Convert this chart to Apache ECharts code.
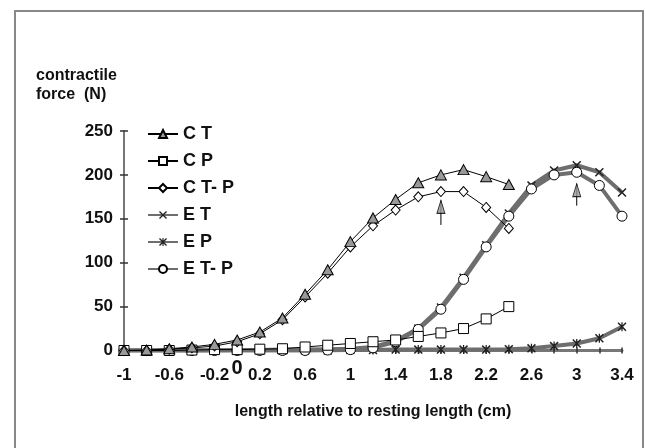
<!DOCTYPE html>
<html>
<head>
<meta charset="utf-8">
<script src="https://cdn.jsdelivr.net/npm/echarts@6/dist/echarts.min.js"></script>
<style>
html,body{margin:0;padding:0;background:#fff;}
#chart{width:646px;height:448px;}
</style>
</head>
<body>
<div id="chart"></div>
<script>
// ---- data ----
const xE = [-1,-0.8,-0.6,-0.4,-0.2,0,0.2,0.4,0.6,0.8,1,1.2,1.4,1.6,1.8,2,2.2,2.4,2.6,2.8,3,3.2,3.4];
const xC = [-1,-0.8,-0.6,-0.4,-0.2,0,0.2,0.4,0.6,0.8,1,1.2,1.4,1.6,1.8,2,2.2,2.4];
const CT  = [0,0.5,2,4,7,12,21,37,64,92,124,151,172,191,200,206,198,189];
const CP  = [0,0,0,0.5,1,1,1.5,2,4,6,8,10,12,16,20,25,36,50];
const CTP = [0,0,1.5,3,5,10,19,35,61,88,118,142,160,175,181,181,163,139];
const ET  = [0,0,0,0,0,0.5,0.5,1,1,1.5,2,4,11,25,49,83,120,156,188,205,211,203,180];
const EP  = [0,0,0,0,0,0,0,0,0,0,0.5,0.5,1,1,1,1,1,1.5,2.5,5,8,14,27];
const ETP = [0,0,0,0,0,0,0,0,0,0.5,1,3,10,24,47,81,118,153,184,200,203,188,153];
const seriesNames = ['C T','C P','C T- P','E T','E P','E T- P'];
const xLabelValues = [-1,-0.6,-0.2,0.2,0.6,1,1.4,1.8,2.2,2.6,3,3.4];
const xTickValues = xE;
const zeroLabel = [0];
const arrowX = [1.8, 3.0];
const arrowTail = [143, 165];
const arrowHead = [171, 190];

const FONT = 'Liberation Sans, Arial, Helvetica, sans-serif';
const pair = (xs, ys) => ys.map((y, i) => [xs[i], y]);

const xMark = 'path://M0,1.2 L1.2,0 L5,3.8 L8.8,0 L10,1.2 L6.2,5 L10,8.8 L8.8,10 L5,6.2 L1.2,10 L0,8.8 L3.8,5 Z';
const starMark = 'path://M0,1.2 L1.2,0 L5,3.8 L8.8,0 L10,1.2 L6.2,5 L10,8.8 L8.8,10 L5,6.2 L1.2,10 L0,8.8 L3.8,5 Z M4.3,0 L5.7,0 L5.7,10 L4.3,10 Z';

const thinLine = {color:'#000', width:1};
const thickLine = {color:'#6e6e6e', width:4};

const series = [
  {name:'E T', type:'line', data:pair(xE, ET), symbol:xMark, symbolSize:9,
   lineStyle:thickLine, itemStyle:{color:'#222', borderWidth:0}, z:2},
  {name:'E P', type:'line', data:pair(xE, EP), symbol:starMark, symbolSize:9,
   lineStyle:thickLine, itemStyle:{color:'#222', borderWidth:0}, z:2},
  {name:'E T- P', type:'line', data:pair(xE, ETP), symbol:'circle', symbolSize:10,
   lineStyle:thickLine, itemStyle:{color:'#fff', borderColor:'#000', borderWidth:1}, z:3},
  {name:'C P', type:'line', data:pair(xC, CP), symbol:'rect', symbolSize:10,
   lineStyle:thinLine, itemStyle:{color:'#fff', borderColor:'#000', borderWidth:1}, z:4},
  {name:'C T- P', type:'line', data:pair(xC, CTP), symbol:'diamond', symbolSize:[9,10],
   lineStyle:thinLine, itemStyle:{color:'#fff', borderColor:'#000', borderWidth:1}, z:4},
  {name:'C T', type:'line', data:pair(xC, CT), symbol:'triangle', symbolSize:[11,10],
   lineStyle:thinLine, itemStyle:{color:'#999', borderColor:'#000', borderWidth:1}, z:4}
];
arrowX.forEach((ax, i) => {
  series.push({type:'line', data:[[ax, arrowTail[i]], [ax, arrowHead[i]]], symbol:'none',
    lineStyle:{color:'#000', width:1}, silent:true, z:5});
  series.push({type:'scatter', data:[[ax, arrowHead[i]]], symbol:'triangle', symbolSize:[8,13],
    symbolOffset:[0, 6.5], itemStyle:{color:'#999', borderColor:'#000', borderWidth:1}, silent:true, z:6});
});

const chart = echarts.init(document.getElementById('chart'), null, {renderer:'canvas'});
chart.setOption({
  animation:false,
  backgroundColor:'#fff',
  textStyle:{fontFamily:FONT},
  grid:{left:124, right:24, top:131, bottom:97.5, containLabel:false},
  legend:{
    data:seriesNames, orient:'vertical', left:142, top:120,
    itemWidth:30, itemHeight:10, itemGap:9,
    textStyle:{fontFamily:FONT, fontSize:18, fontWeight:'bold', color:'#111', lineHeight:18}
  },
  xAxis:[
    {type:'value', min:-1, max:3.4, position:'bottom',
     name:'length relative to resting length (cm)', nameLocation:'middle', nameGap:53,
     nameTextStyle:{fontFamily:FONT, fontSize:16, fontWeight:'bold', color:'#111'},
     axisLine:{show:true, onZero:false, lineStyle:{color:'#777', width:3}},
     axisTick:{show:true, length:3, customValues:xTickValues, lineStyle:{color:'#333', width:1.5}},
     axisLabel:{customValues:xLabelValues, margin:16, fontFamily:FONT, fontSize:17, fontWeight:'bold', color:'#111'},
     splitLine:{show:false}},
    {type:'value', min:-1, max:3.4, position:'bottom', offset:0,
     axisLine:{show:false, onZero:false},
     axisTick:{show:true, inside:true, length:3, customValues:xTickValues, lineStyle:{color:'#333', width:1.5}},
     axisLabel:{customValues:zeroLabel, margin:8, fontFamily:FONT, fontSize:20, fontWeight:'bold', color:'#111'},
     splitLine:{show:false}}
  ],
  yAxis:[
    {type:'value', min:0, max:250, interval:50, position:'left',
     axisLine:{show:true, onZero:false, lineStyle:{color:'#777', width:2}},
     axisTick:{show:true, length:4, lineStyle:{color:'#333', width:1.5}},
     axisLabel:{margin:11, fontFamily:FONT, fontSize:17, fontWeight:'bold', color:'#111'},
     splitLine:{show:false}},
    {type:'value', min:0, max:250, interval:50, position:'left', offset:0,
     axisLine:{show:false, onZero:false},
     axisTick:{show:true, inside:true, length:4, lineStyle:{color:'#333', width:1.5}},
     axisLabel:{show:false}, splitLine:{show:false}}
  ],
  graphic:[
    {type:'rect', shape:{x:15, y:11, width:628, height:470}, style:{fill:'none', stroke:'#888', lineWidth:2}, silent:true},
    {type:'text', x:36, y:66, style:{text:'contractile\nforce  (N)', font:'bold 16px ' + FONT, fill:'#111', lineHeight:19}, silent:true}
  ],
  series:series
});
</script>
</body>
</html>
